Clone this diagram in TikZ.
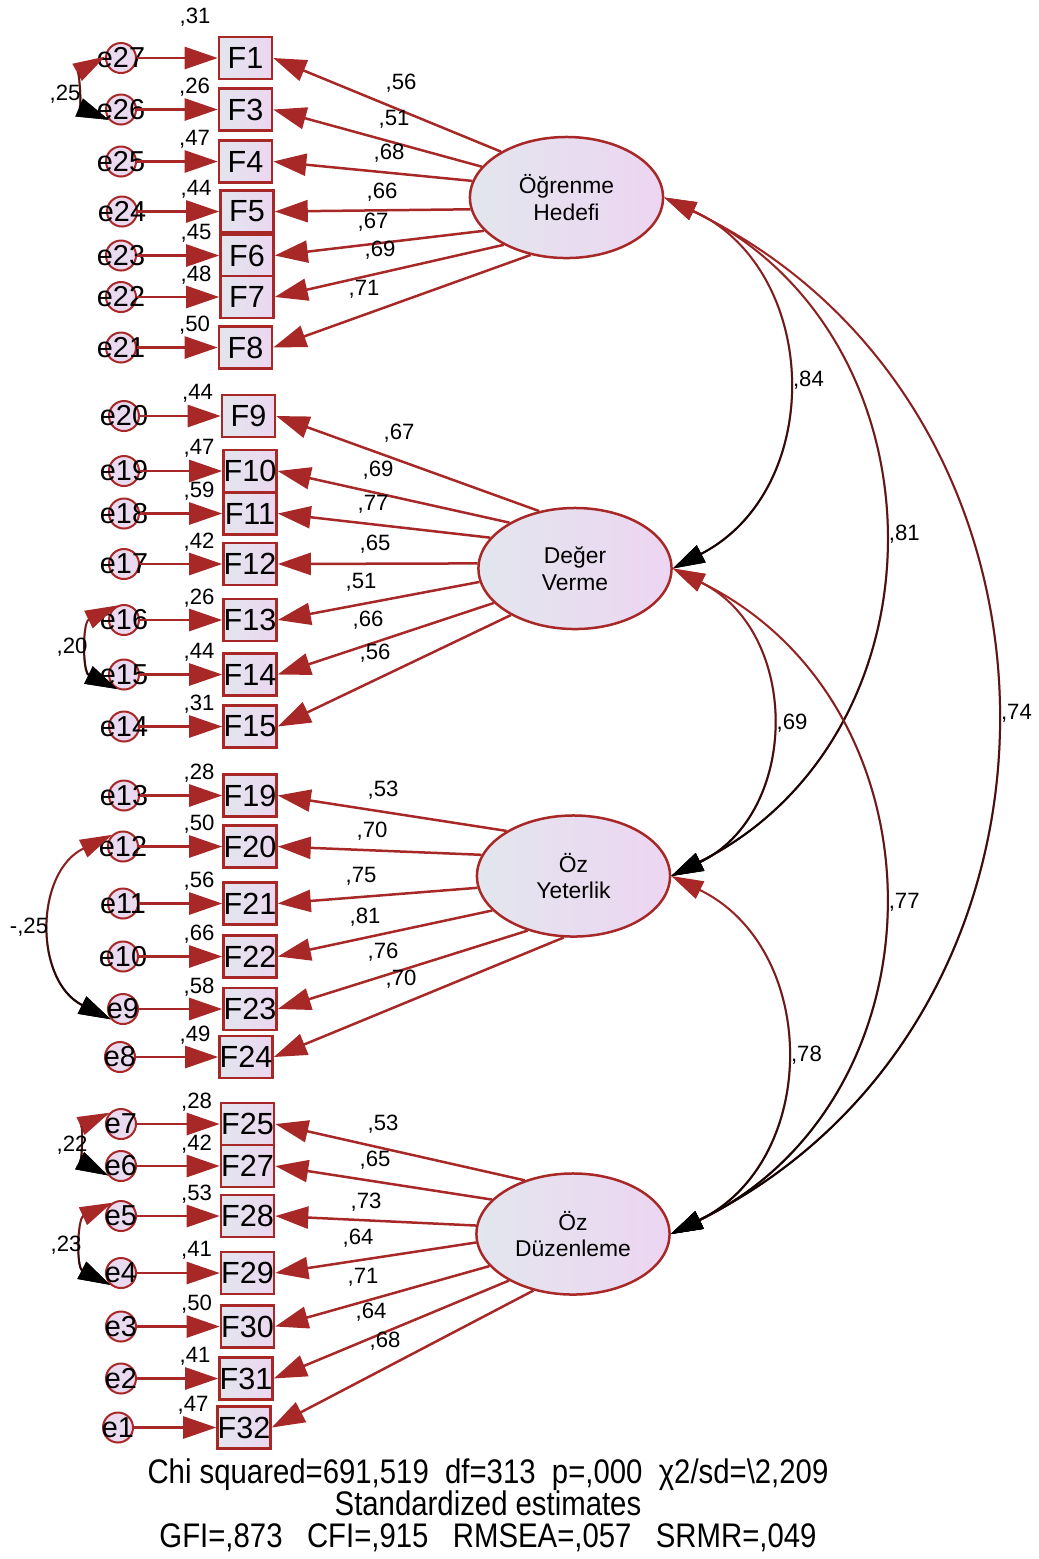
\documentclass[tikz,border=0pt]{standalone}
\usepackage{fontspec}
\setmainfont{Liberation Sans}
\newfontfamily\narrowfont[FakeStretch=0.86]{Liberation Sans}
\usepackage{tikz}
\usetikzlibrary{arrows.meta, positioning, shapes.geometric, fadings}

\definecolor{amosred}{RGB}{168,40,40}
\definecolor{boxl}{RGB}{226,229,238}
\definecolor{boxr}{RGB}{236,215,240}
\definecolor{latl}{RGB}{226,230,238}
\definecolor{latr}{RGB}{237,213,241}
\definecolor{errfill}{RGB}{234,218,240}

\tikzfading[name=fadedown, top color=transparent!100, bottom color=transparent!0]

\begin{document}
\begin{tikzpicture}[x=0.01cm, y=-0.01cm,
    obs/.style={rectangle, draw=amosred, line width=0.025cm, minimum width=0.53cm, minimum height=0.42cm,
        inner sep=0pt, left color=boxl, right color=boxr, font=\fontsize{8.7}{9}\selectfont},
    err/.style={circle, draw=amosred, line width=0.02cm, fill=errfill, minimum size=0.3cm, inner sep=0pt},
    etext/.style={font=\fontsize{8.2}{9}\selectfont, inner sep=0pt},
    latent/.style={ellipse, draw=amosred, line width=0.025cm, minimum width=1.93cm, minimum height=1.21cm,
        inner sep=0pt, left color=latl, right color=latr, align=center, font=\fontsize{6.5}{7.6}\selectfont},
    est/.style={font=\fontsize{6.3}{7}\selectfont, inner sep=0pt},
    rsq/.style={est, left=0.07cm of #1.north west},
    cvlab/.style={est, right=0.07cm},
    load/.style={draw, amosred, line width=0.025cm, -{Triangle[length=0.33cm, width=0.22cm]}},
    loads/.style={every edge/.append style={load}},
    covar/.style={draw=amosred, line width=0.02cm,
        {Triangle[length=0.32cm, width=0.19cm, color=amosred]}-{Triangle[length=0.32cm, width=0.19cm, color=black]},
        postaction={draw=black, path fading=fadedown}},
    fcov/.style={covar, bend left=64, looseness=1.19},
    ecov/.style={covar, bend right=64, looseness=1.19}]

  \useasboundingbox (0,0) rectangle (1038,1559);

  % latent factors
  \node[latent] (ogr) at (566.5,197.5) {Öğrenme\\Hedefi};
  \node[latent] (deg) at (575,568.5)   {Değer\\Verme};
  \node[latent] (yet) at (573.5,876)   {Öz\\Yeterlik};
  \node[latent] (duz) at (573,1234)    {Öz\\Düzenleme};

  % items, Öğrenme Hedefi
  \node[obs] (F1) at (245.5,58)    {F1};
  \node[obs] (F3) at (245.5,109.5) {F3};
  \node[obs] (F4) at (245.5,161.5) {F4};
  \node[obs] (F5) at (247,211.5)   {F5};
  \node[obs] (F6) at (247,255.5)   {F6};
  \node[obs] (F7) at (247,297)     {F7};
  \node[obs] (F8) at (245.5,347.5) {F8};
  % items, Değer Verme
  \node[obs] (F9)  at (248.5,416)  {F9};
  \node[obs] (F10) at (250,471)    {F10};
  \node[obs] (F11) at (250,513.5)  {F11};
  \node[obs] (F12) at (250,564)    {F12};
  \node[obs] (F13) at (250,620)    {F13};
  \node[obs] (F14) at (250,674.5)  {F14};
  \node[obs] (F15) at (250,726.5)  {F15};
  % items, Öz Yeterlik
  \node[obs] (F19) at (250,795.5)  {F19};
  \node[obs] (F20) at (250,846.5)  {F20};
  \node[obs] (F21) at (250,903.5)  {F21};
  \node[obs] (F22) at (250,956.5)  {F22};
  \node[obs] (F23) at (250,1009)   {F23};
  \node[obs] (F24) at (246,1057)   {F24};
  % items, Öz Düzenleme
  \node[obs] (F25) at (247.5,1124)   {F25};
  \node[obs] (F27) at (247.5,1166)   {F27};
  \node[obs] (F28) at (247.5,1216)   {F28};
  \node[obs] (F29) at (247.5,1273)   {F29};
  \node[obs] (F30) at (247.5,1326.5) {F30};
  \node[obs] (F31) at (246,1378.5)   {F31};
  \node[obs] (F32) at (244,1427.5)   {F32};

  % error terms
  \node[err, label={[etext]center:e27}] (e27) at (121,58) {};
  \node[err, label={[etext]center:e26}] (e26) at (121,109.5) {};
  \node[err, label={[etext]center:e25}] (e25) at (121,161.5) {};
  \node[err, label={[etext]center:e24}] (e24) at (122,211.5) {};
  \node[err, label={[etext]center:e23}] (e23) at (121,255.5) {};
  \node[err, label={[etext]center:e22}] (e22) at (121,297) {};
  \node[err, label={[etext]center:e21}] (e21) at (121,347.5) {};
  \node[err, label={[etext]center:e20}] (e20) at (124,416) {};
  \node[err, label={[etext]center:e19}] (e19) at (124,471) {};
  \node[err, label={[etext]center:e18}] (e18) at (124,513.5) {};
  \node[err, label={[etext]center:e17}] (e17) at (124,564) {};
  \node[err, label={[etext]center:e16}] (e16) at (124,620) {};
  \node[err, label={[etext]center:e15}] (e15) at (124,674.5) {};
  \node[err, label={[etext]center:e14}] (e14) at (124,726.5) {};
  \node[err, label={[etext]center:e13}] (e13) at (124,795.5) {};
  \node[err, label={[etext]center:e12}] (e12) at (123,846.5) {};
  \node[err, label={[etext]center:e11}] (e11) at (123,903.5) {};
  \node[err, label={[etext]center:e10}] (e10) at (123,956.5) {};
  \node[err, label={[etext]center:e9}]  (e9)  at (123,1009) {};
  \node[err, label={[etext]center:e8}]  (e8)  at (120,1057) {};
  \node[err, label={[etext]center:e7}]  (e7)  at (121,1124) {};
  \node[err, label={[etext]center:e6}]  (e6)  at (121,1166) {};
  \node[err, label={[etext]center:e5}]  (e5)  at (121,1216) {};
  \node[err, label={[etext]center:e4}]  (e4)  at (121,1273) {};
  \node[err, label={[etext]center:e3}]  (e3)  at (121,1326.5) {};
  \node[err, label={[etext]center:e2}]  (e2)  at (121,1378.5) {};
  \node[err, label={[etext]center:e1}]  (e1)  at (118,1427.5) {};

  % error -> item
  \path[loads] (e27) edge (F1.west)  (e26) edge (F3.west)  (e25) edge (F4.west)
               (e24) edge (F5.west)  (e23) edge (F6.west)  (e22) edge (F7.west)
               (e21) edge (F8.west)  (e20) edge (F9.west)  (e19) edge (F10.west)
               (e18) edge (F11.west) (e17) edge (F12.west) (e16) edge (F13.west)
               (e15) edge (F14.west) (e14) edge (F15.west) (e13) edge (F19.west)
               (e12) edge (F20.west) (e11) edge (F21.west) (e10) edge (F22.west)
               (e9)  edge (F23.west) (e8)  edge (F24.west) (e7)  edge (F25.west)
               (e6)  edge (F27.west) (e5)  edge (F28.west) (e4)  edge (F29.west)
               (e3)  edge (F30.west) (e2)  edge (F31.west) (e1)  edge (F32.west);

  % factor -> item
  \path[loads] (ogr.145) edge (F1.east)  (ogr.160) edge (F3.east)  (ogr.170) edge (F4.east)
               (ogr.187) edge (F5.east)  (ogr.202) edge (F6.east)  (ogr.217) edge (F7.east)
               (ogr.238) edge (F8.east);
  \path[loads] (deg.122) edge (F9.east)  (deg.145) edge (F10.east) (deg.160) edge (F11.east)
               (deg.177) edge (F12.east) (deg.188) edge (F13.east) (deg.203) edge (F14.east)
               (deg.216) edge (F15.east);
  \path[loads] (yet.146) edge (F19.east) (yet.167) edge (F20.east) (yet.187) edge (F21.east)
               (yet.203) edge (F22.east) (yet.230) edge (F23.east) (yet.261) edge (F24.east);
  \path[loads] (duz.132) edge (F25.east) (duz.157) edge (F27.east) (duz.175) edge (F28.east)
               (duz.185) edge (F29.east) (duz.201) edge (F30.east) (duz.216) edge (F31.east)
               (duz.235) edge (F32.east);

  % loadings
  \node[est] (l1)  at (401,83)  {,56};
  \node[est] (l3)  at (394,119) {,51};
  \node[est] (l4)  at (389,153) {,68};
  \node[est] (l5)  at (382,192) {,66};
  \node[est] (l6)  at (373,222) {,67};
  \node[est] (l7)  at (380,250) {,69};
  \node[est] (l8)  at (364,289) {,71};
  \node[est] (l9)  at (399,433) {,67};
  \node[est] (l10) at (378,470) {,69};
  \node[est] (l11) at (373,504) {,77};
  \node[est] (l12) at (375,544) {,65};
  \node[est] (l13) at (361,582) {,51};
  \node[est] (l14) at (368,620) {,66};
  \node[est] (l15) at (375,653) {,56};
  \node[est] (l19) at (383,790) {,53};
  \node[est] (l20) at (372,831) {,70};
  \node[est] (l21) at (361,876) {,75};
  \node[est] (l22) at (365,917) {,81};
  \node[est] (l23) at (383,952) {,76};
  \node[est] (l24) at (401,979) {,70};
  \node[est] (l25) at (383,1124) {,53};
  \node[est] (l27) at (375,1160) {,65};
  \node[est] (l28) at (366,1202) {,73};
  \node[est] (l29) at (358,1238) {,64};
  \node[est] (l30) at (363,1277) {,71};
  \node[est] (l31) at (371,1312) {,64};
  \node[est] (l32) at (385,1341) {,68};

  % squared multiple correlations
  \node[est] (r1) at (195,17) {,31};
  \node[rsq=F3]  (r3)  {,26};
  \node[rsq=F4]  (r4)  {,47};
  \node[rsq=F5]  (r5)  {,44};
  \node[rsq=F6]  (r6)  {,45};
  \node[rsq=F7]  (r7)  {,48};
  \node[rsq=F8]  (r8)  {,50};
  \node[rsq=F9]  (r9)  {,44};
  \node[rsq=F10] (r10) {,47};
  \node[rsq=F11] (r11) {,59};
  \node[rsq=F12] (r12) {,42};
  \node[rsq=F13] (r13) {,26};
  \node[rsq=F14] (r14) {,44};
  \node[rsq=F15] (r15) {,31};
  \node[rsq=F19] (r19) {,28};
  \node[rsq=F20] (r20) {,50};
  \node[rsq=F21] (r21) {,56};
  \node[rsq=F22] (r22) {,66};
  \node[rsq=F23] (r23) {,58};
  \node[rsq=F24] (r24) {,49};
  \node[rsq=F25] (r25) {,28};
  \node[rsq=F27] (r27) {,42};
  \node[rsq=F28] (r28) {,53};
  \node[rsq=F29] (r29) {,41};
  \node[rsq=F30] (r30) {,50};
  \node[rsq=F31] (r31) {,41};
  \node[rsq=F32] (r32) {,47};

  % error covariances
  \draw[ecov] (e27.175) to (e26.220);
  \draw[ecov] (e16.115) to (e15.245);
  \draw[ecov] (e12.133) to (e9.220);
  \draw[ecov] (e7.135)  to (e6.216);
  \draw[ecov] (e5.124)  to (e4.228);
  \node[est] (c1) at (65,94)   {,25};
  \node[est] (c2) at (72,647)  {,20};
  \node[est] (c3) at (29,927)  {-,25};
  \node[est] (c4) at (72,1145) {,22};
  \node[est] (c5) at (66,1245) {,23};

  % factor covariances
  \draw[fcov] (ogr.east) to node[cvlab] {,84} (deg.east);
  \draw[fcov] (ogr.east) to node[cvlab] {,81} (yet.east);
  \draw[fcov] (ogr.east) to node[cvlab] {,74} (duz.east);
  \draw[fcov] (deg.east) to node[cvlab] {,69} (yet.east);
  \draw[fcov] (deg.east) to node[cvlab] {,77} (duz.east);
  \draw[fcov] (yet.east) to node[cvlab] {,78} (duz.east);

  % fit indices
  \node[font=\narrowfont\fontsize{9.7}{9.1}\selectfont, align=center, inner sep=0pt] (stats) at (488,1505)
    {Chi squared=691,519~~df=313~~p=,000~~χ2/sd=\textbackslash2,209\\
     Standardized estimates\\
     GFI=,873~~~CFI=,915~~~RMSEA=,057~~~SRMR=,049};
\end{tikzpicture}
\end{document}
